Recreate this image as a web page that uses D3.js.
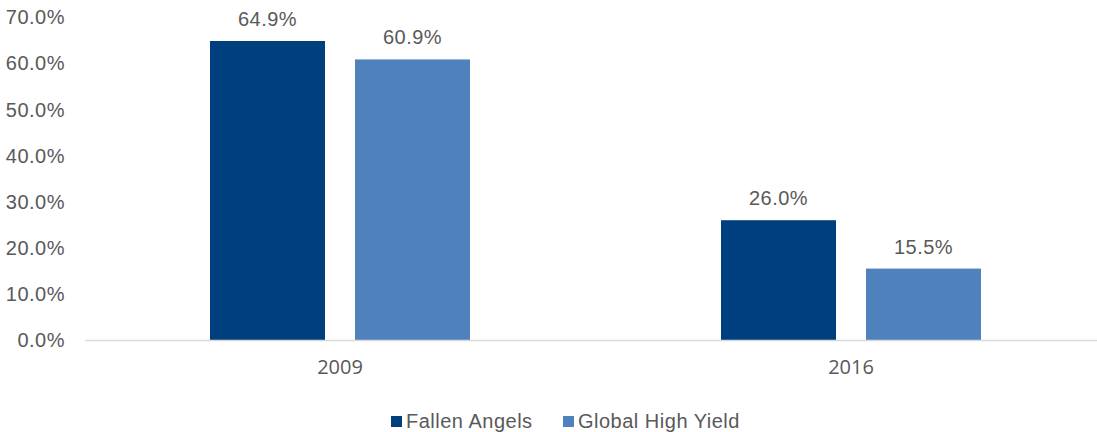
<!DOCTYPE html>
<html>
<head>
<meta charset="utf-8">
<script src="https://cdn.jsdelivr.net/npm/d3@7"></script>
<style>
  body { margin: 0; background: #fff; }
  svg { font-family: "Liberation Sans", Arial, sans-serif; }
</style>
</head>
<body>
<script>
'use strict';

// chart data
const years = ['2009', '2016'];
const seriesNames = ['Fallen Angels', 'Global High Yield'];
const fallenAngels = [64.9, 26.0];
const globalHighYield = [60.9, 15.5];
const yTicks = [0, 10, 20, 30, 40, 50, 60, 70];

const colors = ['#003f7d', '#4f81bd'];
const textColor = '#595959';
const fontSize = '20px';
const spacing = '0.5px';

const width = 1097, height = 432;

const svg = d3.select('body').append('svg')
  .attr('width', width)
  .attr('height', height);

// scales
const x = d3.scaleBand()
  .domain(years)
  .range([84.5, 1106.5]);

// two bars of 115px with a 30px gap
const x1 = d3.scaleBand()
  .domain(seriesNames)
  .range([0, 260])
  .paddingInner(30 / 145);

const y = d3.scaleLinear()
  .domain([0, 70])
  .range([340, 17.5]);

// y axis labels
const yAxis = d3.axisLeft(y)
  .tickValues(yTicks)
  .tickSize(0)
  .tickPadding(0)
  .tickFormat(d => d.toFixed(1) + '%');

svg.append('g')
  .attr('transform', 'translate(65,0)')
  .call(yAxis)
  .call(g => g.select('.domain').remove())
  .selectAll('text')
    .attr('fill', textColor)
    .style('font-size', fontSize)
    .style('letter-spacing', spacing)
    .style('font-family', '"Liberation Sans", Arial, sans-serif');

// bars
const rows = years.map((yr, i) => ({
  year: yr,
  values: [fallenAngels[i], globalHighYield[i]]
}));

const groups = svg.selectAll('.grp')
  .data(rows)
  .enter()
  .append('g')
  .attr('transform', d => `translate(${x(d.year) + (x.bandwidth() - 260) / 2},0)`);

groups.selectAll('rect')
  .data(d => d.values.map((v, j) => ({ name: seriesNames[j], value: v, j: j })))
  .enter()
  .append('rect')
    .attr('x', d => x1(d.name))
    .attr('width', x1.bandwidth())
    .attr('y', d => y(d.value))
    .attr('height', d => y(0) - y(d.value))
    .attr('fill', d => colors[d.j]);

// value labels
groups.selectAll('.lbl')
  .data(d => d.values.map((v, j) => ({ name: seriesNames[j], value: v })))
  .enter()
  .append('text')
    .attr('x', d => x1(d.name) + x1.bandwidth() / 2)
    .attr('y', d => y(d.value) - 15)
    .attr('text-anchor', 'middle')
    .attr('fill', textColor)
    .style('font-size', fontSize)
    .style('letter-spacing', spacing)
    .text(d => d.value.toFixed(1) + '%');

// x axis
const xAxis = d3.axisBottom(x).tickSize(0).tickPadding(0);
svg.append('g')
  .attr('transform', 'translate(0,340)')
  .call(xAxis)
  .call(g => g.select('.domain')
    .attr('stroke', '#d9d9d9')
    .attr('stroke-width', 1.5))
  .selectAll('text')
    .attr('dy', '1.7em')
    .attr('fill', textColor)
    .style('font-size', fontSize)
    .style('font-family', '"Open Sans", "Liberation Sans", sans-serif');

// legend
const legendX = [391, 563];
const legend = svg.selectAll('.leg')
  .data(seriesNames)
  .enter()
  .append('g')
  .attr('transform', (d, i) => `translate(${legendX[i]},416)`);

legend.append('rect')
  .attr('width', 11)
  .attr('height', 11)
  .attr('fill', (d, i) => colors[i]);

legend.append('text')
  .attr('x', 15)
  .attr('y', 11.5)
  .attr('fill', textColor)
  .style('font-size', fontSize)
  .style('letter-spacing', spacing)
  .text(d => d);
</script>
</body>
</html>
